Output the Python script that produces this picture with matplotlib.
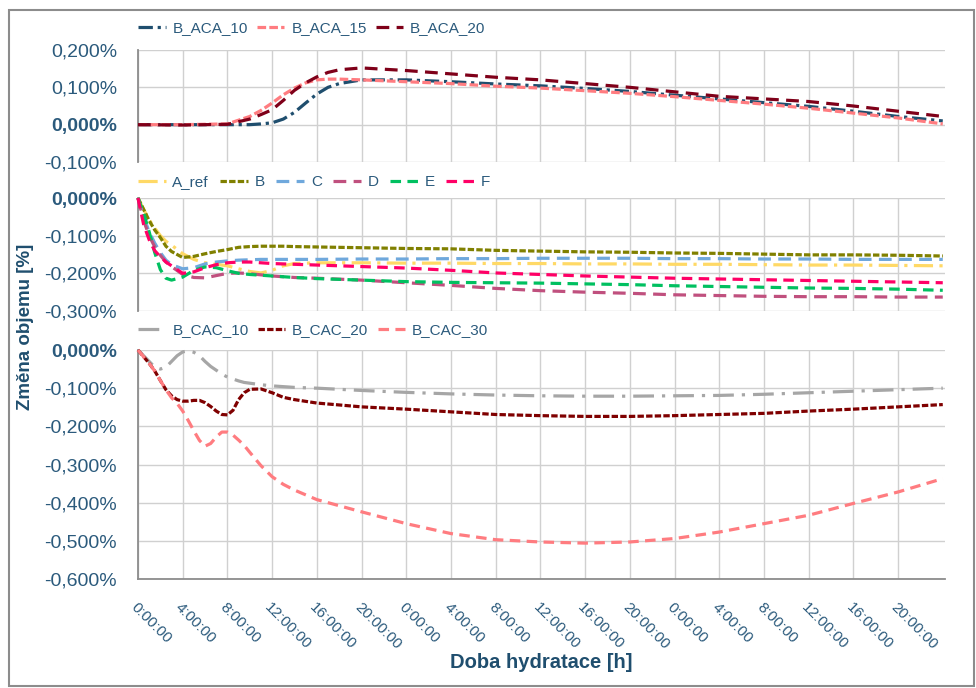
import matplotlib
matplotlib.use("Agg")
import matplotlib.pyplot as plt
from matplotlib.patches import Rectangle

plt.rcParams["font.family"] = ["Liberation Sans", "DejaVu Sans"]

# ---------------- data (hours of hydration, volume change in %) ----------------
t_aca = [0, 4, 8, 10, 11, 12, 13, 14, 15, 16, 17, 18, 20, 24, 28, 32, 36,
         40, 44, 48, 52, 56, 60, 64, 68, 72]
b_aca_10 = [0.0, 0.0, 0.0, 0.0, 0.002, 0.005, 0.015, 0.033, 0.058, 0.082, 0.100,
            0.110, 0.120, 0.120, 0.115, 0.109, 0.104, 0.097, 0.089, 0.079, 0.069,
            0.059, 0.049, 0.036, 0.022, 0.010]
b_aca_15 = [0.0, 0.0, 0.002, 0.022, 0.038, 0.058, 0.080, 0.098, 0.112, 0.120, 0.122,
            0.122, 0.120, 0.115, 0.110, 0.103, 0.098, 0.091, 0.084, 0.075, 0.065,
            0.055, 0.044, 0.031, 0.018, 0.002]
b_aca_20 = [0.0, -0.001, 0.001, 0.015, 0.027, 0.040, 0.065, 0.092, 0.112, 0.128, 0.140,
            0.147, 0.152, 0.145, 0.136, 0.127, 0.120, 0.110, 0.100, 0.088, 0.076,
            0.069, 0.062, 0.050, 0.036, 0.022]

t_mix = [0, 0.5, 1, 1.5, 2, 2.5, 3, 4, 5, 6, 7, 8, 9, 10, 11, 12, 13, 14, 16, 20,
         24, 28, 32, 36, 40, 44, 48, 52, 56, 60, 64, 68, 72]
a_ref = [0.0, -0.030, -0.058, -0.080, -0.100, -0.115, -0.125, -0.148, -0.163, -0.172,
         -0.176, -0.180, -0.188, -0.195, -0.199, -0.192, -0.180, -0.174, -0.172, -0.172,
         -0.173, -0.173, -0.174, -0.174, -0.175, -0.175, -0.176, -0.176, -0.177, -0.178,
         -0.178, -0.179, -0.180]
mix_b = [0.0, -0.030, -0.060, -0.085, -0.105, -0.128, -0.142, -0.158, -0.155, -0.148,
         -0.142, -0.137, -0.131, -0.129, -0.128, -0.128, -0.128, -0.129, -0.130, -0.132,
         -0.134, -0.135, -0.139, -0.141, -0.143, -0.144, -0.146, -0.147, -0.149, -0.151,
         -0.151, -0.152, -0.154]
mix_c = [0.0, -0.050, -0.090, -0.120, -0.145, -0.165, -0.177, -0.188, -0.185, -0.175,
         -0.170, -0.167, -0.165, -0.164, -0.163, -0.163, -0.163, -0.163, -0.163, -0.162,
         -0.162, -0.161, -0.161, -0.160, -0.160, -0.160, -0.161, -0.161, -0.162, -0.162,
         -0.163, -0.163, -0.163]
mix_d = [0.0, -0.060, -0.100, -0.130, -0.152, -0.170, -0.182, -0.203, -0.211, -0.212,
         -0.206, -0.200, -0.199, -0.201, -0.204, -0.207, -0.209, -0.211, -0.213, -0.218,
         -0.225, -0.232, -0.240, -0.246, -0.250, -0.253, -0.257, -0.259, -0.261, -0.262,
         -0.262, -0.263, -0.263]
mix_e = [0.0, -0.040, -0.090, -0.145, -0.190, -0.213, -0.218, -0.210, -0.192, -0.183,
         -0.185, -0.193, -0.200, -0.203, -0.205, -0.207, -0.209, -0.211, -0.214, -0.218,
         -0.222, -0.224, -0.225, -0.226, -0.228, -0.230, -0.233, -0.235, -0.237, -0.239,
         -0.240, -0.242, -0.245]
mix_f = [0.0, -0.070, -0.111, -0.140, -0.156, -0.170, -0.180, -0.200, -0.196, -0.185,
         -0.177, -0.172, -0.170, -0.170, -0.172, -0.174, -0.175, -0.176, -0.178, -0.182,
         -0.186, -0.192, -0.199, -0.203, -0.207, -0.210, -0.213, -0.215, -0.217, -0.219,
         -0.221, -0.223, -0.225]

t_cac = [0, 1, 1.5, 2, 2.5, 3, 3.5, 4, 4.5, 5, 5.5, 6, 6.5, 7, 7.5, 8, 8.5, 9, 9.5,
         10, 11, 12, 13, 14, 16, 20, 24, 28, 32, 36, 40, 44, 48, 52, 56, 60, 64, 68, 72]
b_cac_10 = [0.0, -0.030, -0.045, -0.050, -0.045, -0.030, -0.015, -0.005, -0.002, -0.006,
            -0.015, -0.030, -0.043, -0.053, -0.063, -0.071, -0.076, -0.081, -0.085,
            -0.087, -0.091, -0.094, -0.096, -0.098, -0.100, -0.106, -0.111, -0.115,
            -0.118, -0.120, -0.121, -0.121, -0.120, -0.119, -0.116, -0.112, -0.108,
            -0.104, -0.100]
b_cac_20 = [0.0, -0.035, -0.055, -0.080, -0.104, -0.120, -0.130, -0.134, -0.134, -0.132,
            -0.132, -0.138, -0.148, -0.160, -0.169, -0.170, -0.158, -0.130, -0.112,
            -0.103, -0.102, -0.112, -0.124, -0.130, -0.139, -0.149, -0.155, -0.162,
            -0.169, -0.172, -0.174, -0.174, -0.172, -0.169, -0.166, -0.160, -0.155,
            -0.149, -0.143]
b_cac_30 = [0.0, -0.035, -0.055, -0.080, -0.104, -0.125, -0.140, -0.160, -0.185, -0.212,
            -0.237, -0.252, -0.245, -0.228, -0.215, -0.215, -0.223, -0.236, -0.250,
            -0.268, -0.303, -0.332, -0.352, -0.367, -0.392, -0.424, -0.455, -0.481,
            -0.497, -0.503, -0.506, -0.503, -0.494, -0.477, -0.455, -0.433, -0.402,
            -0.372, -0.337]

tick_hours = list(range(0, 72, 4))
tick_labels = [f"{h % 24}:00:00" for h in tick_hours]

# ---------------- styling ----------------
TEXT = "#2B5A7C"
LABEL = "#1F4E6E"
GRID = "#D0D0D0"
LW = 2.3

panels = [
    dict(ylim=(-0.1, 0.2), yticks=[-0.1, 0.0, 0.1, 0.2], rect=(50, 162), legend_y=28,
         colsp=0.6,
         series=[("B_ACA_10", t_aca, b_aca_10, "#1F4E6E", (4.5, 1.5, 1, 1.5)),
                 ("B_ACA_15", t_aca, b_aca_15, "#FF7C80", (2.7, 1.0)),
                 ("B_ACA_20", t_aca, b_aca_20, "#7F0019", (4.0, 2.3))]),
    dict(ylim=(-0.3, 0.0), yticks=[-0.3, -0.2, -0.1, 0.0], rect=(198, 311), legend_y=182,
         colsp=0.75,
         series=[("A_ref", t_mix, a_ref, "#FFD966", (6.0, 2.0, 1, 2.0)),
                 ("B", t_mix, mix_b, "#808000", (2.0, 0.7)),
                 ("C", t_mix, mix_c, "#6FA8DC", (4.0, 2.3)),
                 ("D", t_mix, mix_d, "#C0507E", (4.0, 2.3)),
                 ("E", t_mix, mix_e, "#00C060", (3.3, 2.0)),
                 ("F", t_mix, mix_f, "#FF0066", (3.3, 2.0))]),
    dict(ylim=(-0.6, 0.0), yticks=[-0.6, -0.5, -0.4, -0.3, -0.2, -0.1, 0.0], rect=(350, 579),
         legend_y=330, colsp=0.6,
         series=[("B_CAC_10", t_cac, b_cac_10, "#A6A6A6", (6.5, 2.5, 1, 2.5)),
                 ("B_CAC_20", t_cac, b_cac_20, "#7F0000", (2.0, 0.7)),
                 ("B_CAC_30", t_cac, b_cac_30, "#FF7C80", (3.3, 2.0))]),
]

W, H = 976, 688
fig = plt.figure(figsize=(W / 100, H / 100), dpi=100)
x_left, x_right = 138, 945


def pct(v):
    if abs(v) < 1e-9:
        v = 0.0
    return f"{v:.3f}".replace(".", ",") + "%"


for i, p in enumerate(panels):
    top, bottom = p["rect"]
    ax = fig.add_axes([x_left / W, 1 - bottom / H, (x_right - x_left) / W, (bottom - top) / H])
    for name, t, v, col, dash in p["series"]:
        ax.plot(t, v, color=col, lw=LW, linestyle=(0, dash), label=name, clip_on=False,
                zorder=3)
    ax.set_xlim(0, 72.2)
    ax.set_ylim(*p["ylim"])
    ax.set_xticks(tick_hours)
    ax.set_yticks(p["yticks"], [pct(v) for v in p["yticks"]])
    for lab, val in zip(ax.get_yticklabels(), p["yticks"]):
        if abs(val) < 1e-9:
            lab.set_fontweight("bold")
    ax.grid(True, color=GRID, lw=1.0, zorder=0)
    ax.set_axisbelow(True)
    for s in ("top", "right"):
        ax.spines[s].set_visible(False)
    ax.spines["left"].set_color("#8C8C8C")
    ax.spines["left"].set_linewidth(1.3)
    if i < 2:
        ax.spines["bottom"].set_visible(False)
        ax.tick_params(axis="x", labelbottom=False)
    else:
        ax.spines["bottom"].set_color("#8C8C8C")
        ax.spines["bottom"].set_linewidth(1.3)
        ax.set_xticklabels(tick_labels, rotation=-45, ha="left", va="top",
                           rotation_mode="anchor")
    ax.tick_params(axis="both", length=0, colors=TEXT)
    ax.tick_params(axis="y", labelsize=14, pad=15)
    ax.tick_params(axis="x", labelsize=11, pad=15)

    leg = ax.legend(loc="center left", bbox_to_anchor=(x_left / W, 1 - p["legend_y"] / H),
                    bbox_transform=fig.transFigure, ncol=len(p["series"]), frameon=False,
                    fontsize=11, handlelength=1.8, handletextpad=0.45,
                    columnspacing=p["colsp"], borderpad=0, borderaxespad=0)
    for txt in leg.get_texts():
        txt.set_color(TEXT)

fig.text(26 / W, 1 - 327 / H, "Změna objemu [%]", rotation=90, ha="center", va="center",
         fontsize=13.5, fontweight="bold", color=LABEL)
fig.text((x_left + x_right) / 2 / W, 1 - 662 / H, "Doba hydratace [h]", ha="center",
         va="center", fontsize=14.5, fontweight="bold", color=LABEL)

fig.patches.append(Rectangle((9 / W, 1 - 686 / H), 965 / W, 676 / H, transform=fig.transFigure,
                             fill=False, edgecolor="#8C8C8C", lw=1.5))

fig.savefig("out.png", dpi=100, facecolor="white")
